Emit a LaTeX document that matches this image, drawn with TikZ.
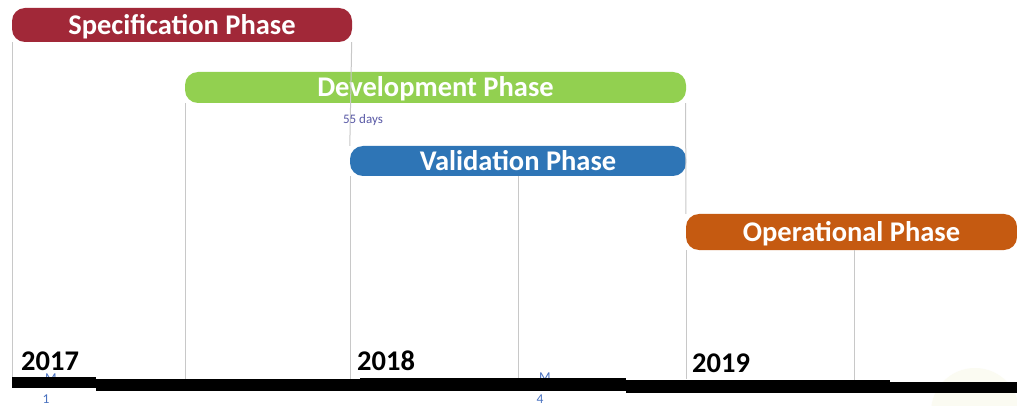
\documentclass[tikz,border=0pt]{standalone}
\usepackage{fontspec}
\setmainfont{Carlito}
\definecolor{specc}{HTML}{A12838}
\definecolor{devc}{HTML}{92D050}
\definecolor{valc}{HTML}{2E75B6}
\definecolor{opc}{HTML}{C55A11}
\definecolor{gridc}{HTML}{C8C8C8}
\definecolor{mlab}{HTML}{4A72C0}
\definecolor{blob}{HTML}{FBFBF2}
\begin{document}
\begin{tikzpicture}[x=1pt,y=-1pt,
  phase/.style={rectangle,rounded corners=13pt,inner sep=0pt,text=white,
    text height=19pt,text depth=0pt,
    font=\fontsize{28.5}{30}\selectfont\bfseries},
  vline/.style={draw=gridc,line width=1pt},
  year/.style={inner sep=0pt,anchor=base west,font=\fontsize{28.5}{30}\selectfont\bfseries},
  mlabel/.style={inner sep=0pt,text=mlab,font=\fontsize{13.5}{14}\selectfont},
  axisbar/.style={fill=black}]
\useasboundingbox (0,0) rectangle (1017,406);
\fill[white] (0,0) rectangle (1017,406);
\fill[blob] (975,412) circle (44);
% axis reference
\coordinate (axis) at (0,379);
% phase bars
\node[phase,fill=specc,minimum width=340pt,minimum height=34pt] (spec) at (182,25) {Specification Phase};
\node[phase,fill=devc,minimum width=501pt,minimum height=31pt] (dev) at (435.5,87.5) {Development Phase};
\node[phase,fill=valc,minimum width=336pt,minimum height=30pt] (val) at (518,161) {Validation Phase};
\node[phase,fill=opc,minimum width=331pt,minimum height=36pt] (op) at (851.5,232) {Operational Phase};
% vertical lines
\draw[vline] ([xshift=0.5pt]spec.south west) -- ([xshift=0.5pt]spec.south west |- axis);
\draw[vline] ([xshift=-0.5pt]spec.south east) -- (val.north west);
\draw[vline] ([xshift=0.5pt]dev.south west) -- ([xshift=0.5pt]dev.south west |- axis);
\draw[vline] ([xshift=0.5pt]val.south west) -- ([xshift=0.5pt]val.south west |- axis);
\draw[vline] ([xshift=-0.5pt]dev.south east) -- (op.north west);
\draw[vline] ([xshift=0.5pt]op.south west) -- ([xshift=0.5pt]op.south west |- axis);
\draw[vline] (val.south) -- (val.south |- axis);
\coordinate (axisr) at (0,381);
\draw[vline] ([xshift=3pt]op.south) -- ([xshift=3pt]op.south |- axisr);
% small labels
\node[inner sep=0pt,text=gray!70!blue,font=\fontsize{13}{14}\selectfont] (days) at (363,120) {55 days};
\node[mlabel] (m1a) at (51,378) {M};
\node[mlabel] (m1b) at (46,399) {1};
\node[mlabel] (m2) at (217,385) {M2};
\node[mlabel] (m3) at (383,384) {M3};
\node[mlabel] (m4a) at (545,377) {M};
\node[mlabel] (m4b) at (540,399) {4};
\node[mlabel] (m5) at (718,385) {M5};
% years
\node[year] (y17) at (21,370) {2017};
\node[year] (y18) at (357,370) {2018};
\node[year] (y19) at (692,372) {2019};
% axis bar (stepped)
\fill[axisbar] (12,377) rectangle (96,388);
\fill[axisbar] (96,379) rectangle (360,391);
\fill[axisbar] (360,378) rectangle (626,391);
\fill[axisbar] (626,380) rectangle (890,393);
\fill[axisbar] (890,382) rectangle (1017,393);
\end{tikzpicture}
\end{document}
